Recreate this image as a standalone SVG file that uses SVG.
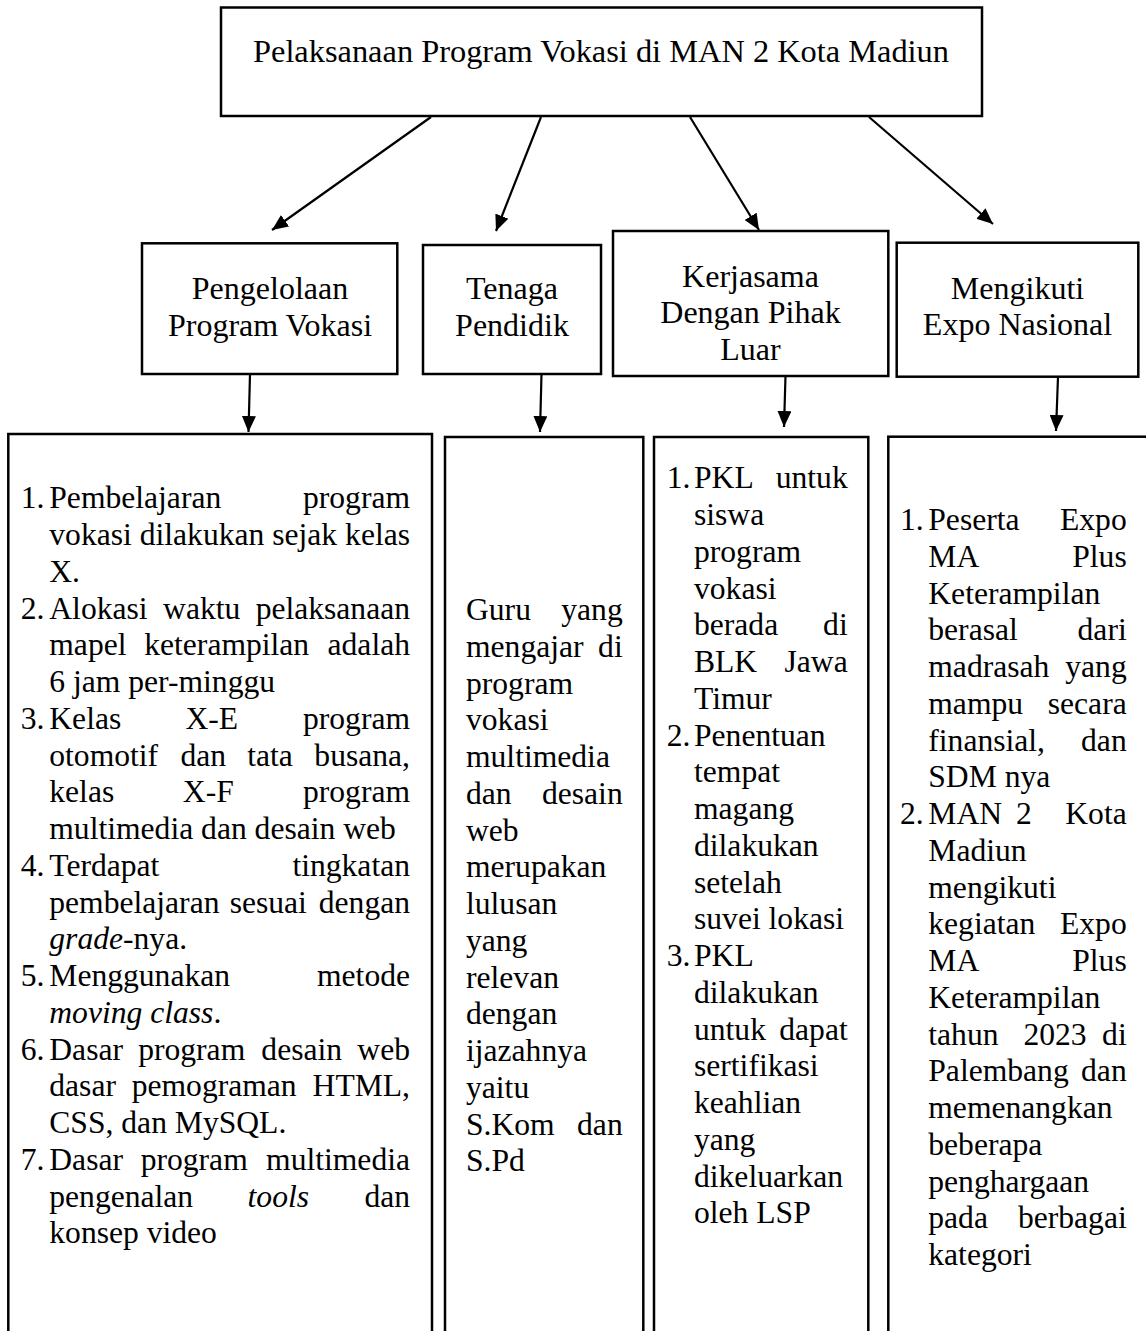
<svg xmlns="http://www.w3.org/2000/svg" width="1146" height="1331" viewBox="0 0 1146 1331">
<style>
.box{fill:none;stroke:#000;stroke-width:2.5}
text{font-family:"Liberation Serif","Times New Roman",serif;font-size:31.6px;fill:#000}
.h{font-size:32px}
.title{font-size:32.4px}
.m{text-anchor:middle}
.e{text-anchor:end}
.it{font-style:italic}
.con line{stroke:#000;stroke-width:2.2;marker-end:url(#ah)}
</style>
<defs>
<marker id="ah" markerUnits="userSpaceOnUse" markerWidth="16" markerHeight="14" viewBox="0 0 16 14" refX="16" refY="7" orient="auto">
<path d="M0,0 L16,7 L0,14 z" fill="#000"/>
</marker>
</defs>
<rect width="1146" height="1331" fill="#fff"/>

<g id="root">
<rect class="box" x="221" y="7.5" width="761" height="108.5"/>
<text class="m title" x="601" y="62">Pelaksanaan Program Vokasi di MAN 2 Kota Madiun</text>
</g>

<g id="pengelolaan">
<rect class="box" x="142" y="243.3" width="255.3" height="130.7"/>
<text class="m h" x="270" y="299">Pengelolaan</text>
<text class="m h" x="270" y="336">Program Vokasi</text>
</g>

<g id="tenaga">
<rect class="box" x="423" y="245" width="178" height="129"/>
<text class="m h" x="512" y="299">Tenaga</text>
<text class="m h" x="512" y="336">Pendidik</text>
</g>

<g id="kerjasama">
<rect class="box" x="613" y="231" width="275.3" height="145"/>
<text class="m h" x="750.5" y="286.7">Kerjasama</text>
<text class="m h" x="750.5" y="323.3">Dengan Pihak</text>
<text class="m h" x="750.5" y="360">Luar</text>
</g>

<g id="expo">
<rect class="box" x="896.7" y="242.7" width="241.6" height="134"/>
<text class="m h" x="1017.5" y="299">Mengikuti</text>
<text class="m h" x="1017.5" y="335">Expo Nasional</text>
</g>

<g class="con" id="connectors">
<line x1="431" y1="117" x2="272" y2="230"/>
<line x1="541" y1="117" x2="496" y2="231"/>
<line x1="690" y1="117" x2="759" y2="230"/>
<line x1="869" y1="117" x2="993" y2="224"/>
<line x1="250" y1="374" x2="248.5" y2="432"/>
<line x1="541.5" y1="374" x2="540" y2="432"/>
<line x1="785.5" y1="376" x2="784" y2="427"/>
<line x1="1058" y1="377" x2="1056" y2="431"/>
</g>

<g id="detail-pengelolaan">
<rect class="box" x="8.3" y="434" width="423.7" height="1000"/>
<text x="20.7" y="508.3">1.</text><text x="49.3" y="508.3">Pembelajaran</text><text class="e" x="410" y="508.3">program</text>
<text x="49.3" y="545">vokasi</text><text class="m" x="202" y="545">dilakukan</text><text class="m" x="304.6" y="545">sejak</text><text class="e" x="410" y="545">kelas</text>
<text x="49.3" y="581.8">X.</text>
<text x="20.7" y="618.55">2.</text><text x="49.3" y="618.55">Alokasi</text><text class="m" x="201.7" y="618.55">waktu</text><text class="e" x="410" y="618.55">pelaksanaan</text>
<text x="49.3" y="655.3">mapel</text><text class="m" x="226.7" y="655.3">keterampilan</text><text class="e" x="410" y="655.3">adalah</text>
<text x="49.3" y="692.05">6 jam per-minggu</text>
<text x="20.7" y="728.8">3.</text><text x="49.3" y="728.8">Kelas</text><text class="m" x="211.7" y="728.8">X-E</text><text class="e" x="410" y="728.8">program</text>
<text x="49.3" y="765.55">otomotif</text><text class="m" x="203.3" y="765.55">dan</text><text class="m" x="270" y="765.55">tata</text><text class="e" x="410" y="765.55">busana,</text>
<text x="49.3" y="802.3">kelas</text><text class="m" x="208.3" y="802.3">X-F</text><text class="e" x="410" y="802.3">program</text>
<text x="49.3" y="839.05">multimedia dan desain web</text>
<text x="20.7" y="875.8">4.</text><text x="49.3" y="875.8">Terdapat</text><text class="e" x="410" y="875.8">tingkatan</text>
<text x="49.3" y="912.55">pembelajaran</text><text class="m" x="268.3" y="912.55">sesuai</text><text class="e" x="410" y="912.55">dengan</text>
<text x="49.3" y="949.3"><tspan class="it">grade</tspan>-nya.</text>
<text x="20.7" y="986.05">5.</text><text x="49.3" y="986.05">Menggunakan</text><text class="e" x="410" y="986.05">metode</text>
<text x="49.3" y="1022.8"><tspan class="it">moving class</tspan>.</text>
<text x="20.7" y="1059.55">6.</text><text x="49.3" y="1059.55">Dasar</text><text class="m" x="191.7" y="1059.55">program</text><text class="m" x="301.7" y="1059.55">desain</text><text class="e" x="410" y="1059.55">web</text>
<text x="49.3" y="1096.3">dasar</text><text class="m" x="214.2" y="1096.3">pemograman</text><text class="e" x="410" y="1096.3">HTML,</text>
<text x="49.3" y="1133.05">CSS, dan MySQL.</text>
<text x="20.7" y="1169.8">7.</text><text x="49.3" y="1169.8">Dasar</text><text class="m" x="194.2" y="1169.8">program</text><text class="e" x="410" y="1169.8">multimedia</text>
<text x="49.3" y="1206.55">pengenalan</text><text class="m it" x="278.3" y="1206.55">tools</text><text class="e" x="410" y="1206.55">dan</text>
<text x="49.3" y="1243.3">konsep video</text>
</g>

<g id="detail-tenaga">
<rect class="box" x="445" y="437" width="198.3" height="1000"/>
<text x="466" y="620">Guru</text><text class="e" x="622.7" y="620">yang</text>
<text x="466" y="656.75">mengajar</text><text class="e" x="622.7" y="656.75">di</text>
<text x="466" y="693.5">program</text>
<text x="466" y="730.25">vokasi</text>
<text x="466" y="767">multimedia</text>
<text x="466" y="803.75">dan</text><text class="e" x="622.7" y="803.75">desain</text>
<text x="466" y="840.5">web</text>
<text x="466" y="877.25">merupakan</text>
<text x="466" y="914">lulusan</text>
<text x="466" y="950.75">yang</text>
<text x="466" y="987.5">relevan</text>
<text x="466" y="1024.25">dengan</text>
<text x="466" y="1061">ijazahnya</text>
<text x="466" y="1097.75">yaitu</text>
<text x="466" y="1134.5">S.Kom</text><text class="e" x="622.7" y="1134.5">dan</text>
<text x="466" y="1171.25">S.Pd</text>
</g>

<g id="detail-kerjasama">
<rect class="box" x="654" y="437" width="214.3" height="1000"/>
<text x="666.7" y="488.3">1.</text><text x="694" y="488.3">PKL</text><text class="e" x="847.7" y="488.3">untuk</text>
<text x="694" y="525.05">siswa</text>
<text x="694" y="561.8">program</text>
<text x="694" y="598.55">vokasi</text>
<text x="694" y="635.3">berada</text><text class="e" x="847.7" y="635.3">di</text>
<text x="694" y="672.05">BLK</text><text class="e" x="847.7" y="672.05">Jawa</text>
<text x="694" y="708.8">Timur</text>
<text x="666.7" y="745.55">2.</text><text x="694" y="745.55">Penentuan</text>
<text x="694" y="782.3">tempat</text>
<text x="694" y="819.05">magang</text>
<text x="694" y="855.8">dilakukan</text>
<text x="694" y="892.55">setelah</text>
<text x="694" y="929.3">suvei lokasi</text>
<text x="666.7" y="966.05">3.</text><text x="694" y="966.05">PKL</text>
<text x="694" y="1002.8">dilakukan</text>
<text x="694" y="1039.55">untuk</text><text class="e" x="847.7" y="1039.55">dapat</text>
<text x="694" y="1076.3">sertifikasi</text>
<text x="694" y="1113.05">keahlian</text>
<text x="694" y="1149.8">yang</text>
<text x="694" y="1186.55">dikeluarkan</text>
<text x="694" y="1223.3">oleh LSP</text>
</g>

<g id="detail-expo">
<rect class="box" x="888.3" y="436.7" width="270" height="1000"/>
<text x="900" y="530">1.</text><text x="928.3" y="530">Peserta</text><text class="e" x="1126.7" y="530">Expo</text>
<text x="928.3" y="566.75">MA</text><text class="e" x="1126.7" y="566.75">Plus</text>
<text x="928.3" y="603.5">Keterampilan</text>
<text x="928.3" y="640.25">berasal</text><text class="e" x="1126.7" y="640.25">dari</text>
<text x="928.3" y="677">madrasah</text><text class="e" x="1126.7" y="677">yang</text>
<text x="928.3" y="713.75">mampu</text><text class="e" x="1126.7" y="713.75">secara</text>
<text x="928.3" y="750.5">finansial,</text><text class="e" x="1126.7" y="750.5">dan</text>
<text x="928.3" y="787.25">SDM nya</text>
<text x="900" y="824">2.</text><text x="928.3" y="824">MAN</text><text class="m" x="1024" y="824">2</text><text class="e" x="1126.7" y="824">Kota</text>
<text x="928.3" y="860.75">Madiun</text>
<text x="928.3" y="897.5">mengikuti</text>
<text x="928.3" y="934.25">kegiatan</text><text class="e" x="1126.7" y="934.25">Expo</text>
<text x="928.3" y="971">MA</text><text class="e" x="1126.7" y="971">Plus</text>
<text x="928.3" y="1007.75">Keterampilan</text>
<text x="928.3" y="1044.5">tahun</text><text class="m" x="1055" y="1044.5">2023</text><text class="e" x="1126.7" y="1044.5">di</text>
<text x="928.3" y="1081.25">Palembang</text><text class="e" x="1126.7" y="1081.25">dan</text>
<text x="928.3" y="1118">memenangkan</text>
<text x="928.3" y="1154.75">beberapa</text>
<text x="928.3" y="1191.5">penghargaan</text>
<text x="928.3" y="1228.25">pada</text><text class="e" x="1126.7" y="1228.25">berbagai</text>
<text x="928.3" y="1265">kategori</text>
</g>
</svg>
